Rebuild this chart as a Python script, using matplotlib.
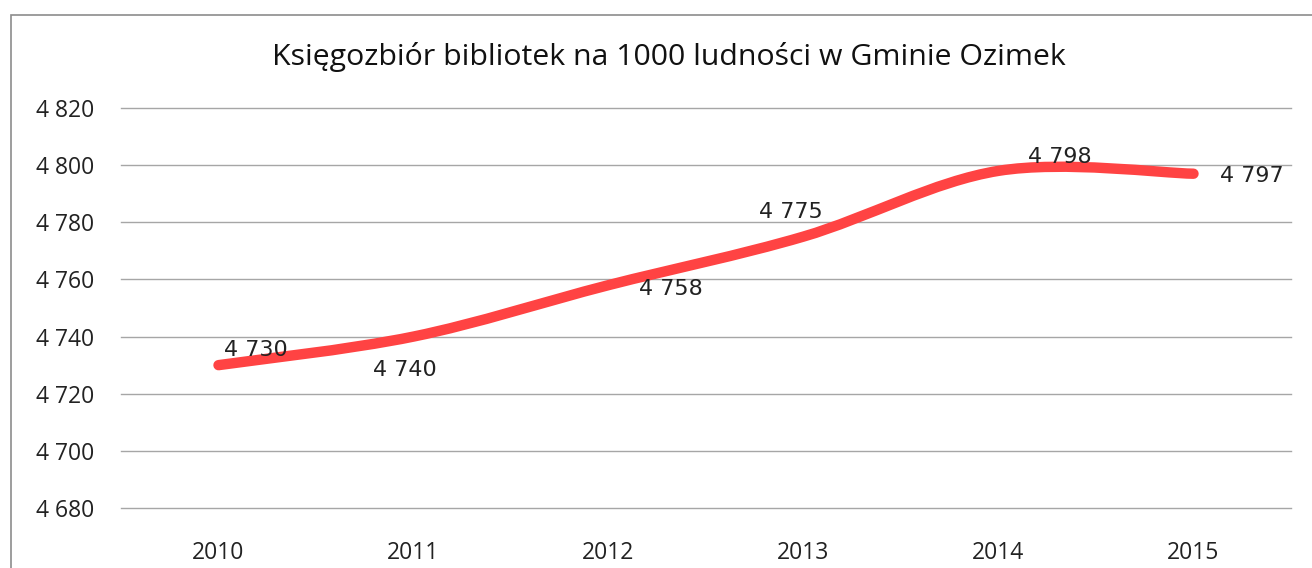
import matplotlib
matplotlib.use("Agg")
import matplotlib.pyplot as plt
from matplotlib.path import Path
from matplotlib.patches import PathPatch, Rectangle

years = ["2010", "2011", "2012", "2013", "2014", "2015"]
values = [4730, 4740, 4758, 4775, 4798, 4797]
label_texts = ["4 730", "4 740", "4 758", "4 775", "4 798", "4 797"]
yticks = [4680, 4700, 4720, 4740, 4760, 4780, 4800, 4820]
title = "Księgozbiór bibliotek na 1000 ludności w Gminie Ozimek"


def fmt(v):
    s = f"{v:,}"
    return s.replace(",", " ")


def smooth_path(xs, ys):
    # Excel-like smoothed line: Catmull-Rom segments as cubic Beziers
    verts = [(xs[0], ys[0])]
    codes = [Path.MOVETO]
    n = len(xs)
    for i in range(n - 1):
        x0, y0 = (xs[i - 1], ys[i - 1]) if i > 0 else (xs[i], ys[i])
        x1, y1 = xs[i], ys[i]
        x2, y2 = xs[i + 1], ys[i + 1]
        x3, y3 = (xs[i + 2], ys[i + 2]) if i + 2 < n else (x2, y2)
        c1 = (x1 + (x2 - x0) / 6, y1 + (y2 - y0) / 6)
        c2 = (x2 - (x3 - x1) / 6, y2 - (y3 - y1) / 6)
        verts += [c1, c2, (x2, y2)]
        codes += [Path.CURVE4] * 3
    return Path(verts, codes)


fig = plt.figure(figsize=(13.12, 5.68), dpi=100)
ax = fig.add_axes([121 / 1312, 1 - 508 / 568, (1291 - 121) / 1312, 400 / 568])

xs = list(range(len(years)))
ax.set_xlim(-0.5, len(years) - 0.5)
ax.set_ylim(4680, 4820)
ax.set_yticks(yticks)
ax.set_yticklabels([fmt(v) for v in yticks], fontfamily="Open Sans", fontsize=16.5, color="#222222")
ax.set_xticks(xs)
ax.set_xticklabels(years, fontfamily="Open Sans", fontsize=16.5, color="#222222")
ax.tick_params(axis="x", length=0, pad=24)
ax.tick_params(axis="y", length=0, pad=19)
for s in ax.spines.values():
    s.set_visible(False)
ax.grid(axis="y", color="#a6a6a6", linewidth=1.0)
for gl in ax.get_ygridlines():
    gl.set_clip_on(False)
ax.set_axisbelow(True)

ax.add_patch(PathPatch(smooth_path(xs, values), facecolor="none", edgecolor="#ff4343",
                       linewidth=7.5, capstyle="round", joinstyle="round", zorder=3))

offsets = [(27, 11), (-6, -24), (45, -3), (-9, 18), (44, 10), (42, -2)]
for x, v, t, off in zip(xs, values, label_texts, offsets):
    ax.annotate(t, (x, v), xytext=off, textcoords="offset points", ha="center", va="center",
                fontsize=16, fontfamily="DejaVu Sans", color="#222222", zorder=4)

fig.text(669 / 1312, 1 - 57 / 568, title, ha="center", va="center",
         fontfamily="Open Sans", fontsize=21.8, color="#111111")

fig.patches.append(Rectangle((11 / 1312, -0.1), 1.2, 1 - 15 / 568 + 0.1, transform=fig.transFigure,
                             fill=False, edgecolor="#8c8c8c", linewidth=1.2))

fig.savefig("out.png", dpi=100)
